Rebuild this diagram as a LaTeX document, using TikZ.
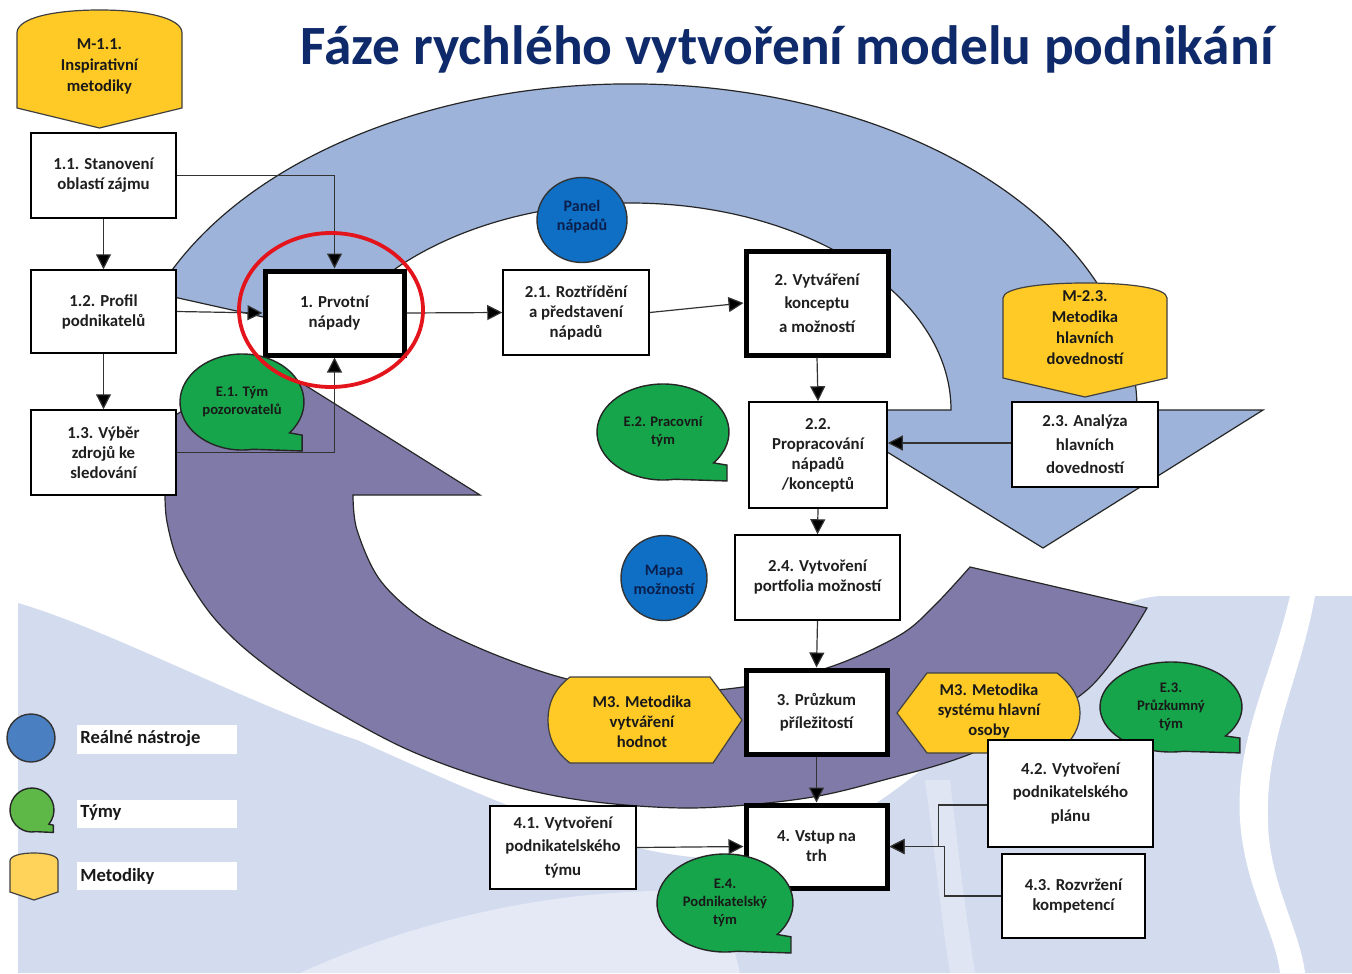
\documentclass[tikz,border=0pt]{standalone}
\usepackage{fontspec}
\setmainfont{Carlito}
\usetikzlibrary{arrows.meta,shapes.geometric}
\definecolor{bandblue}{HTML}{9DB3D9}
\definecolor{bandpurple}{HTML}{7F7AA8}
\definecolor{meth}{HTML}{FFC926}
\definecolor{teamgreen}{HTML}{16A54A}
\definecolor{toolblue}{HTML}{0E6FC4}
\definecolor{lav}{HTML}{D3DBEF}
\definecolor{titleblue}{HTML}{0F2A6B}
\definecolor{redring}{HTML}{E3141C}
\definecolor{legblue}{HTML}{4A7FC1}
\definecolor{leggreen}{HTML}{5DB847}
\definecolor{legyellow}{HTML}{FFD35A}
\definecolor{navytext}{HTML}{0B1F4D}

\newcommand\bx[7]{\node[#6, minimum width={(#4-#2)*0.5pt}, minimum height={(#5-#3)*0.5pt}] (#1) at ({(#2+#4)/2},{(#3+#5)/2}) {#7};}
% name, cx, cy, rx, ry, fill, text
\newcommand\bubble[7]{%
  \path[bubshape, fill=#6] ({#2+#4*cos(80)},{#3+#5*sin(80)}) arc[start angle=80, end angle=400, x radius=#4, y radius=#5]
    -- ({#2+0.97*#4},{#3+0.69*#5}) -- ({#2+0.97*#4},{#3+1.02*#5}) -- cycle;
  \node[bubtext] (#1) at (#2,#3) {#7};}
% name, x1, x2, ytop, ycorner, yside, ypoint, text, ytext
\newcommand\methdown[9]{%
  \path[methshape] (#2,#6) -- (#2,#5) .. controls (#2,{#4+0.35*(#5-#4)}) and ({#2+0.22*(#3-#2)},#4) .. ({(#2+#3)/2},#4)
    .. controls ({#3-0.22*(#3-#2)},#4) and (#3,{#4+0.35*(#5-#4)}) .. (#3,#5) -- (#3,#6) -- ({(#2+#3)/2},#7) -- cycle;
  \node[methtext] (#1) at ({(#2+#3)/2},#9) {#8};}

\begin{document}
\begin{tikzpicture}[x=0.5pt,y=-0.5pt,
  box/.style={draw=black, line width=0.75pt, fill=white, inner sep=0pt, align=center,
    font=\bfseries\fontsize{8.4}{10}\selectfont, text=black!88},
  thickbox/.style={box, line width=2.5pt},
  spaced/.style={font=\bfseries\fontsize{8.4}{11.75}\selectfont},
  band/.style={draw=black!85, line width=0.6pt},
  conn/.style={draw=black!80, line width=0.6pt, -{Triangle[length=7.5pt,width=7.5pt,fill=black]}},
  bubshape/.style={draw=black!85, line width=0.7pt},
  bubtext/.style={inner sep=0pt, align=center, font=\bfseries\fontsize{7.3}{9}\selectfont, text=black!90},
  methshape/.style={draw=black!75, line width=0.6pt, fill=meth},
  methtext/.style={inner sep=0pt, align=center, font=\bfseries\fontsize{8.3}{10.5}\selectfont, text=black!90},
  toolshape/.style={draw=black!80, line width=0.7pt, fill=toolblue},
  tooltext/.style={inner sep=0pt, align=center, font=\bfseries\fontsize{8}{9.5}\selectfont, text=navytext},
  legtext/.style={inner sep=0pt, anchor=west, font=\bfseries\fontsize{9.3}{11}\selectfont, text=black!90}
]
\useasboundingbox (0,0) rectangle (1352,973);
\fill[white] (0,0) rectangle (1352,973);

% background
\fill[lav] (18,973) -- (18,603) .. controls (110,630) and (250,705) .. (357,740)
  .. controls (470,790) and (600,852) .. (705,858) .. controls (820,860) and (900,790) .. (980,720)
  .. controls (1040,660) and (1100,600) .. (1160,596) -- (1352,596) -- (1352,973) -- cycle;
\fill[white] (1290,596) .. controls (1270,680) and (1235,740) .. (1240,820) .. controls (1245,890) and (1275,930) .. (1280,973)
  -- (1305,973) .. controls (1300,930) and (1268,880) .. (1268,820) .. controls (1265,740) and (1300,680) .. (1315,596) -- cycle;
\fill[white, opacity=0.3] (925,780) .. controls (935,850) and (940,910) .. (950,973) -- (975,973) .. controls (965,910) and (958,850) .. (950,780) -- cycle;
\fill[white, opacity=0.4] (300,973) .. controls (450,905) and (600,885) .. (720,892) -- (740,973) -- cycle;

% title
\node[anchor=base, inner sep=0pt, font=\bfseries\fontsize{27.7}{30}\selectfont, text=titleblue] (title) at (787,65) {Fáze rychlého vytvoření modelu podnikání};

% blue band
\path[band, fill=bandblue] ({630+507*cos(-159)},{410+326*sin(-159)}) arc[start angle=-159, end angle=0, x radius=507, y radius=326]
  -- (1263,410) -- (1043,548) -- (819,410) -- (951,410)
  arc[start angle=0, end angle=-158, x radius=321, y radius=207] -- cycle;

% purple band
\path[band, fill=bandpurple] (480,495) -- (265,360) -- (52,491) -- (165,494)
  -- plot[smooth, tension=0.55] coordinates {(165,494) (167,522) (179,563) (210,613) (250,653) (312,697) (402,747) (491,780) (580,800) (690,808) (800,799) (880,781) (980,750) (1087,690) (1147,608)}
  -- (970,567)
  -- plot[smooth, tension=0.55] coordinates {(970,567) (935,605) (900,635) (830,667) (743,687) (655,692) (571,680) (491,653) (424,620) (380,580) (357,530) (353,495)}
  -- cycle;

% methodology shapes
\methdown{m11}{17}{182}{10}{33}{108}{128}{M-1.1.\\Inspirativní\\metodiky}{66}
\methdown{m23}{1003}{1167}{283}{298}{378}{397}{M-2.3.\\Metodika\\hlavních\\dovedností}{328}
\path[methshape] (570,677) -- (710,677) -- (742,720) -- (713,763) -- (570,763)
  .. controls (553,750) and (548,735) .. (548,720) .. controls (548,705) and (553,690) .. (570,677) -- cycle;
\node[methtext, font=\bfseries\fontsize{8.3}{9.9}\selectfont] (m3a) at (642,722) {M3. Metodika\\vytváření\\hodnot};
\path[methshape] (927,673) -- (1057,673) .. controls (1074,686) and (1080,700) .. (1080,713)
  .. controls (1080,726) and (1074,740) .. (1057,753) -- (927,753) -- (897,713) -- cycle;
\node[methtext, font=\bfseries\fontsize{8.3}{9.9}\selectfont] (m3b) at (989,711) {M3. Metodika\\systému hlavní\\osoby};

% boxes
\bx{n11}{31}{133}{176}{218}{box}{1.1. Stanovení\\oblastí zájmu}
\bx{n12}{31}{270}{176}{353}{box}{1.2. Profil\\podnikatelů}
\bx{n13}{31}{410}{176}{495}{box}{1.3. Výběr\\zdrojů ke\\sledování}
\bx{n1}{265}{271}{404}{355}{thickbox}{1. Prvotní\\nápady}
\bx{n21}{503}{270}{649}{355}{box}{2.1. Roztřídění\\a představení\\nápadů}
\bx{n2}{746}{251}{888}{355}{thickbox,spaced}{2. Vytváření\\konceptu\\a možností}
\bx{n22}{749}{402}{887}{508}{box}{2.2.\\Propracování\\nápadů\\/konceptů}
\bx{n23}{1012}{402}{1158}{487}{box,spaced}{2.3. Analýza\\hlavních\\dovedností}
\bx{n24}{735}{535}{900}{620}{box}{2.4. Vytvoření\\portfolia možností}
\bx{n3}{746}{670}{887}{754}{thickbox,spaced}{3. Průzkum\\příležitostí}
\bx{n4}{746}{805}{887}{888}{thickbox}{4. Vstup na\\trh}
\bx{n41}{490}{806}{636}{889}{box,spaced}{4.1. Vytvoření\\podnikatelského\\týmu}
\bx{n43}{1002}{854}{1145}{938}{box}{4.3. Rozvržení\\kompetencí}

% teams
\bubble{e1}{242}{402}{62}{48}{teamgreen}{E.1. Tým\\pozorovatelů}
\bubble{e2}{663}{432}{66}{48}{teamgreen}{E.2. Pracovní\\tým}
\bubble{e3}{1171}{707}{71}{45}{teamgreen}{E.3.\\Průzkumný\\tým}
\bubble{e4}{725}{903}{68}{49}{teamgreen}{E.4.\\Podnikatelský\\tým}

\bx{n42}{988}{740}{1153}{847}{box,spaced}{4.2. Vytvoření\\podnikatelského\\plánu}

% tools
\path[toolshape] (582,220) ellipse[x radius=45, y radius=42.5];
\node[tooltext] (panel) at (582,217) {Panel\\nápadů};
\path[toolshape] (664,578) ellipse[x radius=43, y radius=42.5];
\node[tooltext] (mapa) at (664,580) {Mapa\\možností};

% connectors
\coordinate (y443) at (0,443);
\coordinate (y805) at (0,805);
\draw[conn] (n11.south) -- (n12.north);
\draw[conn] (n12.south) -- (n13.north);
\draw[conn] (n11.east) -| (n1.north);
\draw[conn] (n12.east) -- (n1.west);
\draw[conn] (n13.east) -| (n1.south);
\draw[conn] (n1.east) -- (n21.west);
\draw[conn] (n21.east) -- (n2.west);
\draw[conn] (n2.south) -- (n22.north);
\draw[conn] (n23.west |- y443) -- (n22.east |- y443);
\draw[conn] (n22.south) -- (n24.north);
\draw[conn] (n24.south) -- (n3.north);
\draw[conn] (n3.south) -- (n4.north);
\draw[conn] (n41.east) -- (n4.west);
\draw[conn] (n42.west |- y805) -- ++(-49,0) |- (n4.east);
\draw[conn] (n43.west) -- ++(-57,0) |- (n4.east);

% highlight ring
\draw[redring, line width=1.9pt] (331,310) ellipse[x radius=92, y radius=77];

% legend
\path[toolshape, fill=legblue] (31,738) ellipse[x radius=24, y radius=24];
\fill[white] (77,725) rectangle (237,754);
\node[legtext] (lg1) at (80,739) {Reálné nástroje};
\bubble{lgg}{32}{810}{22}{22}{leggreen}{}
\fill[white] (77,800) rectangle (237,828);
\node[legtext] (lg2) at (80,813) {Týmy};
\begin{scope}[methshape/.append style={fill=legyellow}]
\methdown{lgy}{10}{58}{853}{861}{892}{900}{}{876}
\end{scope}
\fill[white] (77,862) rectangle (237,890);
\node[legtext] (lg3) at (80,876) {Metodiky};
\end{tikzpicture}
\end{document}
